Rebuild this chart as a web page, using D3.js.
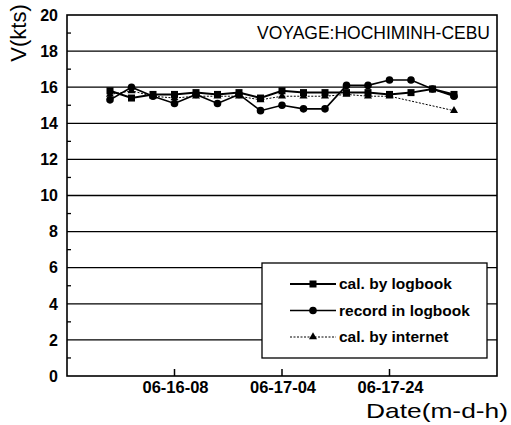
<!DOCTYPE html>
<html>
<head>
<meta charset="utf-8">
<script src="https://cdn.jsdelivr.net/npm/d3@7"></script>
<style>
  body { margin: 0; background: #fff; }
  svg { display: block; font-family: "Liberation Sans", Arial, sans-serif; }
</style>
</head>
<body>
<svg width="511" height="425"></svg>
<script>
// hours counted from 06-15-12
const hours = [8, 12, 16, 20, 24, 28, 32, 36, 40, 44, 48, 52, 56, 60, 64, 68, 72];
const calByLogbook = [15.8, 15.4, 15.6, 15.6, 15.7, 15.6, 15.7, 15.4, 15.8, 15.7, 15.7, 15.7, 15.7, 15.6, 15.7, 15.9, 15.6];
const recordInLogbook = [15.3, 16.0, 15.5, 15.1, 15.6, 15.1, 15.6, 14.7, 15.0, 14.8, 14.8, 16.1, 16.1, 16.4, 16.4, 15.9, 15.5];
// no internet fix at 06-18-04 and 06-18-08
const calByInternet = [15.6, 15.8, 15.5, 15.4, 15.5, 15.5, 15.5, 15.3, 15.5, 15.5, 15.5, 15.6, 15.5, 15.5, null, null, 14.7];
const xTickHours = [20, 40, 60];
const xTickLabels = ["06-16-08", "06-17-04", "06-17-24"];
const yTicks = [0, 2, 4, 6, 8, 10, 12, 14, 16, 18, 20];
const yMinor = [1, 3, 5, 7, 9, 11, 13, 15, 17, 19];

const plotL = 67, plotR = 497, plotT = 15, plotB = 376;

const svg = d3.select("svg");
const x = d3.scaleLinear().domain([0, 80]).range([plotL, plotR]);
const y = d3.scaleLinear().domain([0, 20]).range([plotB, plotT]);

// grid
svg.append("g")
    .selectAll("line")
    .data(yTicks.slice(1, -1))
    .join("line")
    .attr("x1", plotL).attr("x2", plotR)
    .attr("y1", d => y(d)).attr("y2", d => y(d))
    .attr("stroke", "#000").attr("stroke-width", 1.3);

// frame
svg.append("rect")
    .attr("x", plotL).attr("y", plotT)
    .attr("width", plotR - plotL).attr("height", plotB - plotT)
    .attr("fill", "none").attr("stroke", "#000").attr("stroke-width", 1.6);

// y minor ticks
svg.append("g")
    .selectAll("line")
    .data(yMinor)
    .join("line")
    .attr("x1", plotL).attr("x2", plotL + 4)
    .attr("y1", d => y(d)).attr("y2", d => y(d))
    .attr("stroke", "#000").attr("stroke-width", 1.3);

// y labels
svg.append("g")
    .selectAll("text")
    .data(yTicks)
    .join("text")
    .attr("x", 58).attr("y", d => y(d))
    .attr("dy", "0.36em")
    .attr("text-anchor", "end")
    .attr("font-size", 16).attr("font-weight", "bold")
    .text(d => d);

// x ticks
svg.append("g")
    .selectAll("line")
    .data(xTickHours)
    .join("line")
    .attr("x1", d => x(d)).attr("x2", d => x(d))
    .attr("y1", plotB).attr("y2", plotB - 7)
    .attr("stroke", "#000").attr("stroke-width", 1.5);

svg.append("g")
    .selectAll("text")
    .data(xTickHours)
    .join("text")
    .attr("x", d => x(d) + 1).attr("y", plotB + 17)
    .attr("text-anchor", "middle")
    .attr("font-size", 16.5).attr("font-weight", "bold")
    .text((d, i) => xTickLabels[i]);

// axis titles
svg.append("text")
    .attr("transform", "translate(26,33) rotate(-90)")
    .attr("text-anchor", "middle")
    .attr("font-size", 22)
    .text("V(kts)");

svg.append("text")
    .attr("x", 508).attr("y", 418)
    .attr("text-anchor", "end")
    .attr("font-size", 21)
    .attr("textLength", 142).attr("lengthAdjust", "spacingAndGlyphs")
    .text("Date(m-d-h)");

svg.append("text")
    .attr("x", 490).attr("y", 39)
    .attr("text-anchor", "end")
    .attr("font-size", 17.5)
    .text("VOYAGE:HOCHIMINH-CEBU");

// series
const series = [
    {name: "cal. by logbook", values: calByLogbook, marker: "square", width: 2, dash: null},
    {name: "record in logbook", values: recordInLogbook, marker: "circle", width: 1.6, dash: null},
    {name: "cal. by internet", values: calByInternet, marker: "triangle", width: 1, dash: "2,1.5"}
];

const line = d3.line().x(d => x(d[0])).y(d => y(d[1]));

function drawMarker(g, type) {
    if (type === "square") {
        g.append("rect").attr("x", -3.5).attr("y", -3.5).attr("width", 7).attr("height", 7).attr("fill", "#000");
    } else if (type === "circle") {
        g.append("circle").attr("r", 3.8).attr("fill", "#000");
    } else {
        g.append("path").attr("d", d3.symbol(d3.symbolTriangle, 28)()).attr("fill", "#000");
    }
}

series.slice().reverse().forEach(s => {
    const pts = hours.map((h, i) => [h, s.values[i]]).filter(d => d[1] != null);
    svg.append("path")
        .attr("d", line(pts))
        .attr("fill", "none").attr("stroke", "#000")
        .attr("stroke-width", s.width)
        .attr("stroke-dasharray", s.dash);
    svg.append("g")
        .selectAll("g")
        .data(pts)
        .join("g")
        .attr("transform", d => `translate(${x(d[0])},${y(d[1])})`)
        .each(function () { drawMarker(d3.select(this), s.marker); });
});

// legend
const lg = svg.append("g");
lg.append("rect")
    .attr("x", 262).attr("y", 263)
    .attr("width", 225).attr("height", 95)
    .attr("fill", "#fff").attr("stroke", "#000").attr("stroke-width", 1.3);

series.forEach((s, i) => {
    const ly = 284 + i * 26.5;
    lg.append("line")
        .attr("x1", 290).attr("x2", 336)
        .attr("y1", ly).attr("y2", ly)
        .attr("stroke", "#000").attr("stroke-width", s.width)
        .attr("stroke-dasharray", s.dash);
    const m = lg.append("g").attr("transform", `translate(313,${ly})`);
    drawMarker(m, s.marker);
    lg.append("text")
        .attr("x", 339).attr("y", ly)
        .attr("dy", "0.35em")
        .attr("font-size", 15.5).attr("font-weight", "bold")
        .text(s.name);
});
</script>
</body>
</html>
